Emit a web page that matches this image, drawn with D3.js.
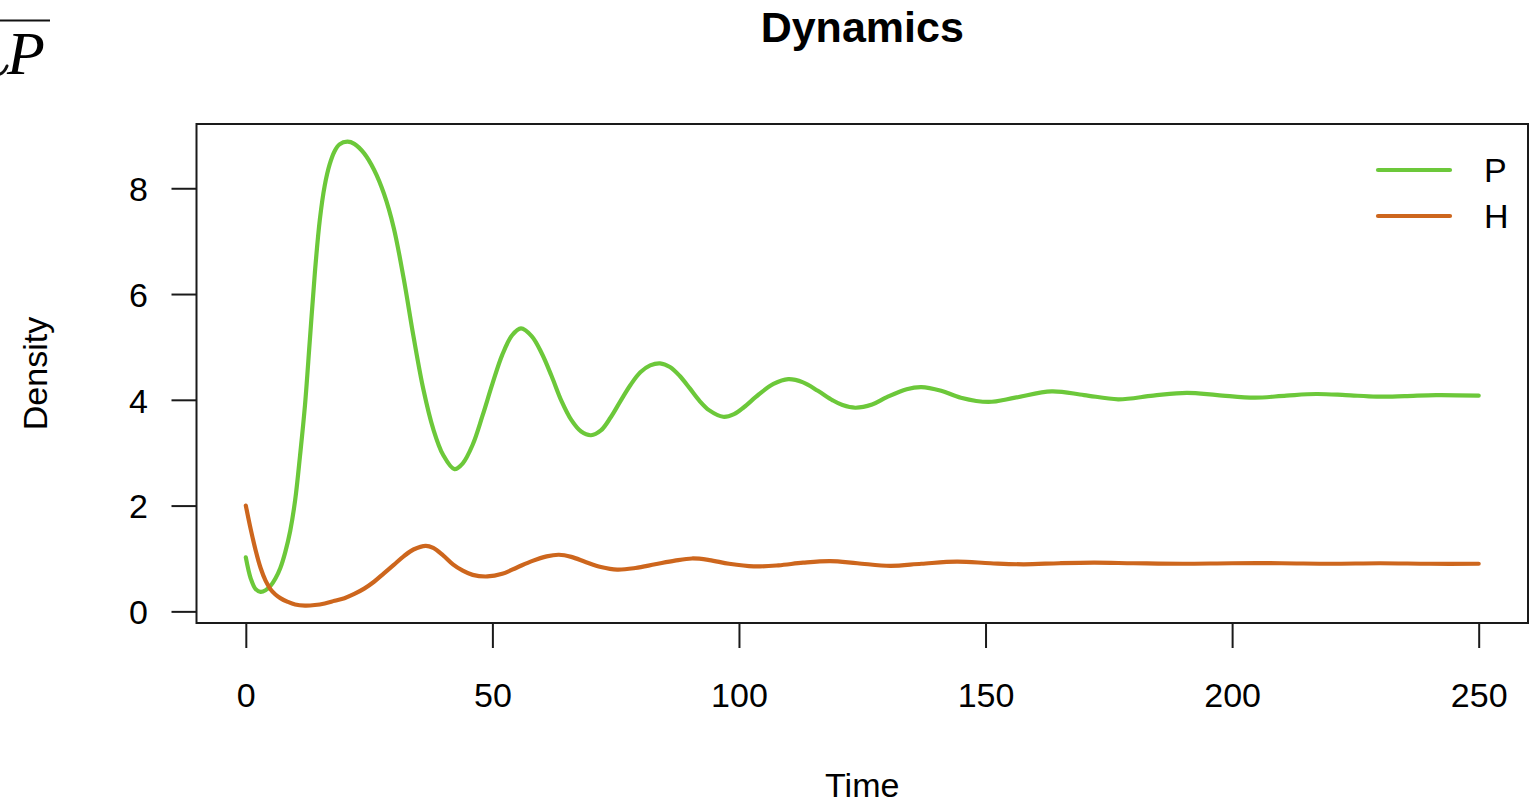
<!DOCTYPE html>
<html>
<head>
<meta charset="utf-8">
<title>Dynamics</title>
<script src="https://cdn.jsdelivr.net/npm/d3@7"></script>
<style>
  html, body { margin: 0; padding: 0; background: #ffffff; }
  svg { display: block; }
  text { font-family: "Liberation Sans", Arial, Helvetica, sans-serif; fill: #000; }
</style>
</head>
<body>
<script>
// Time points and densities of the parasitoid (P) and host (H) populations
const timeP = [0, 1, 2, 3, 4, 5, 6, 7, 8, 9, 10, 11, 12, 13, 14, 15, 16, 17, 18, 19, 20.6, 22, 24, 26, 28, 30, 32, 34, 36, 38, 40, 42.3, 44, 46, 48, 50, 52, 54, 55.8, 58, 60, 62, 64, 66, 68, 70, 72, 74, 76, 78, 80, 82, 84, 86, 88, 90, 92, 94, 96.8, 99, 101, 104, 107, 110, 113, 116, 119, 121, 123.6, 127, 130, 134, 137, 141, 145, 150.6, 156, 163.4, 170, 176.9, 184, 190.8, 197, 204.6, 211, 217.1, 223, 229.3, 235, 241.4, 250];
const densityP = [1.02, 0.62, 0.42, 0.37, 0.40, 0.48, 0.62, 0.82, 1.12, 1.52, 2.10, 2.95, 3.90, 5.15, 6.40, 7.40, 8.05, 8.45, 8.70, 8.83, 8.88, 8.84, 8.66, 8.35, 7.90, 7.25, 6.30, 5.20, 4.20, 3.45, 2.96, 2.69, 2.80, 3.15, 3.70, 4.30, 4.85, 5.22, 5.35, 5.20, 4.88, 4.45, 3.98, 3.62, 3.40, 3.33, 3.42, 3.67, 3.98, 4.28, 4.52, 4.65, 4.69, 4.62, 4.45, 4.22, 3.98, 3.80, 3.68, 3.73, 3.86, 4.10, 4.30, 4.39, 4.33, 4.17, 3.99, 3.90, 3.85, 3.91, 4.05, 4.20, 4.24, 4.17, 4.04, 3.96, 4.04, 4.16, 4.09, 4.01, 4.08, 4.13, 4.09, 4.04, 4.08, 4.11, 4.09, 4.06, 4.07, 4.09, 4.08];

const timeH = [0, 1, 2, 3, 4, 5, 6, 7, 8.5, 10, 12, 14, 16, 18, 20, 22, 24, 26, 28, 30, 32, 34, 36.5, 38, 40, 42, 44, 46, 49, 52, 55, 58, 61, 63.5, 66, 69, 72, 75.3, 79, 83, 87, 90.5, 94, 98, 103, 108, 113, 118.5, 124, 130.7, 137, 144.2, 151, 157.7, 165, 172, 180, 190, 200, 210, 220, 230, 240, 250];
const densityH = [2.00, 1.55, 1.15, 0.82, 0.58, 0.42, 0.32, 0.25, 0.18, 0.13, 0.11, 0.12, 0.15, 0.20, 0.25, 0.33, 0.43, 0.56, 0.72, 0.88, 1.04, 1.17, 1.24, 1.20, 1.06, 0.89, 0.77, 0.69, 0.66, 0.71, 0.83, 0.95, 1.04, 1.07, 1.03, 0.93, 0.84, 0.79, 0.82, 0.89, 0.96, 1.00, 0.97, 0.90, 0.85, 0.87, 0.92, 0.95, 0.91, 0.86, 0.90, 0.94, 0.91, 0.89, 0.91, 0.92, 0.91, 0.90, 0.91, 0.91, 0.90, 0.91, 0.90, 0.90];

const xTicks = [0, 50, 100, 150, 200, 250];
const yTicks = [0, 2, 4, 6, 8];
const seriesNames = ["P", "H"];
const seriesColors = ["#6cc83a", "#cd661d"];

const W = 1539, H = 803;
const plot = { left: 196.5, right: 1528, top: 124, bottom: 623 };

const svg = d3.select("body").append("svg")
  .attr("width", W).attr("height", H);

// Scales carry R-style 4% padding around the data range
const x = d3.scaleLinear().domain([-10, 260]).range([plot.left, plot.right]);
const y = d3.scaleLinear().domain([-0.22, 9.215]).range([plot.bottom, plot.top]);

// Corner formula fragment at the page edge: overbar, tail of a glyph and an italic P
svg.append("line")
  .attr("x1", 0).attr("x2", 50).attr("y1", 20.5).attr("y2", 20.5)
  .attr("stroke", "#111").attr("stroke-width", 2);
svg.append("path")
  .attr("d", "M0,74 C3,73 5,71 7,66")
  .attr("fill", "none").attr("stroke", "#111").attr("stroke-width", 3)
  .attr("stroke-linecap", "round");
svg.append("text")
  .attr("x", 7).attr("y", 74)
  .style("font-family", "'Liberation Serif', 'DejaVu Serif', serif")
  .style("font-style", "italic")
  .style("font-size", "62px")
  .text("P");

// Title
svg.append("text")
  .attr("x", (plot.left + plot.right) / 2).attr("y", 42)
  .attr("text-anchor", "middle")
  .style("font-weight", "bold").style("font-size", "43px")
  .text("Dynamics");

// Series lines
const line = d3.line().curve(d3.curveCatmullRom.alpha(0.5))
  .x(d => x(d[0])).y(d => y(d[1]));

const series = [
  d3.zip(timeP, densityP),
  d3.zip(timeH, densityH)
];

svg.append("clipPath").attr("id", "plot-clip")
  .append("rect")
  .attr("x", plot.left).attr("y", plot.top)
  .attr("width", plot.right - plot.left).attr("height", plot.bottom - plot.top);

const gLines = svg.append("g").attr("clip-path", "url(#plot-clip)");
series.forEach((s, i) => {
  gLines.append("path")
    .datum(s)
    .attr("d", line)
    .attr("fill", "none")
    .attr("stroke", seriesColors[i])
    .attr("stroke-width", 4.2)
    .attr("stroke-linejoin", "round")
    .attr("stroke-linecap", "round");
});

// Frame
svg.append("rect")
  .attr("x", plot.left).attr("y", plot.top)
  .attr("width", plot.right - plot.left).attr("height", plot.bottom - plot.top)
  .attr("fill", "none").attr("stroke", "#1a1a1a").attr("stroke-width", 2);

// Bottom axis
const xAxis = d3.axisBottom(x).tickValues(xTicks).tickSize(25).tickPadding(34)
  .tickFormat(d3.format("d"));
const gx = svg.append("g")
  .attr("transform", `translate(0,${plot.bottom})`)
  .call(xAxis);
gx.select(".domain").remove();
gx.selectAll(".tick line").attr("stroke", "#1a1a1a").attr("stroke-width", 2);
gx.selectAll(".tick text")
  .attr("dy", null).attr("y", 84)
  .style("font-size", "34px")
  .style("font-family", "'Liberation Sans', Arial, Helvetica, sans-serif")
  .attr("fill", "#000");

// Left axis
const yAxis = d3.axisLeft(y).tickValues(yTicks).tickSize(25).tickPadding(24)
  .tickFormat(d3.format("d"));
const gy = svg.append("g")
  .attr("transform", `translate(${plot.left},0)`)
  .call(yAxis);
gy.select(".domain").remove();
gy.selectAll(".tick line").attr("stroke", "#1a1a1a").attr("stroke-width", 2);
gy.selectAll(".tick text")
  .attr("x", -48.5).attr("dy", "0.36em")
  .style("font-size", "34px")
  .style("font-family", "'Liberation Sans', Arial, Helvetica, sans-serif")
  .attr("fill", "#000");

// Axis titles
svg.append("text")
  .attr("x", (plot.left + plot.right) / 2).attr("y", 797)
  .attr("text-anchor", "middle")
  .style("font-size", "34px")
  .text("Time");

svg.append("text")
  .attr("transform", `translate(47,${(plot.top + plot.bottom) / 2}) rotate(-90)`)
  .attr("text-anchor", "middle")
  .style("font-size", "34px")
  .text("Density");

// Legend
const legendY = [170, 216];
const gLeg = svg.append("g");
seriesNames.forEach((name, i) => {
  gLeg.append("line")
    .attr("x1", 1378).attr("x2", 1450)
    .attr("y1", legendY[i]).attr("y2", legendY[i])
    .attr("stroke", seriesColors[i]).attr("stroke-width", 4.2)
    .attr("stroke-linecap", "round");
  gLeg.append("text")
    .attr("x", 1484).attr("y", legendY[i]).attr("dy", "0.36em")
    .style("font-size", "34px")
    .text(name);
});
</script>
</body>
</html>
